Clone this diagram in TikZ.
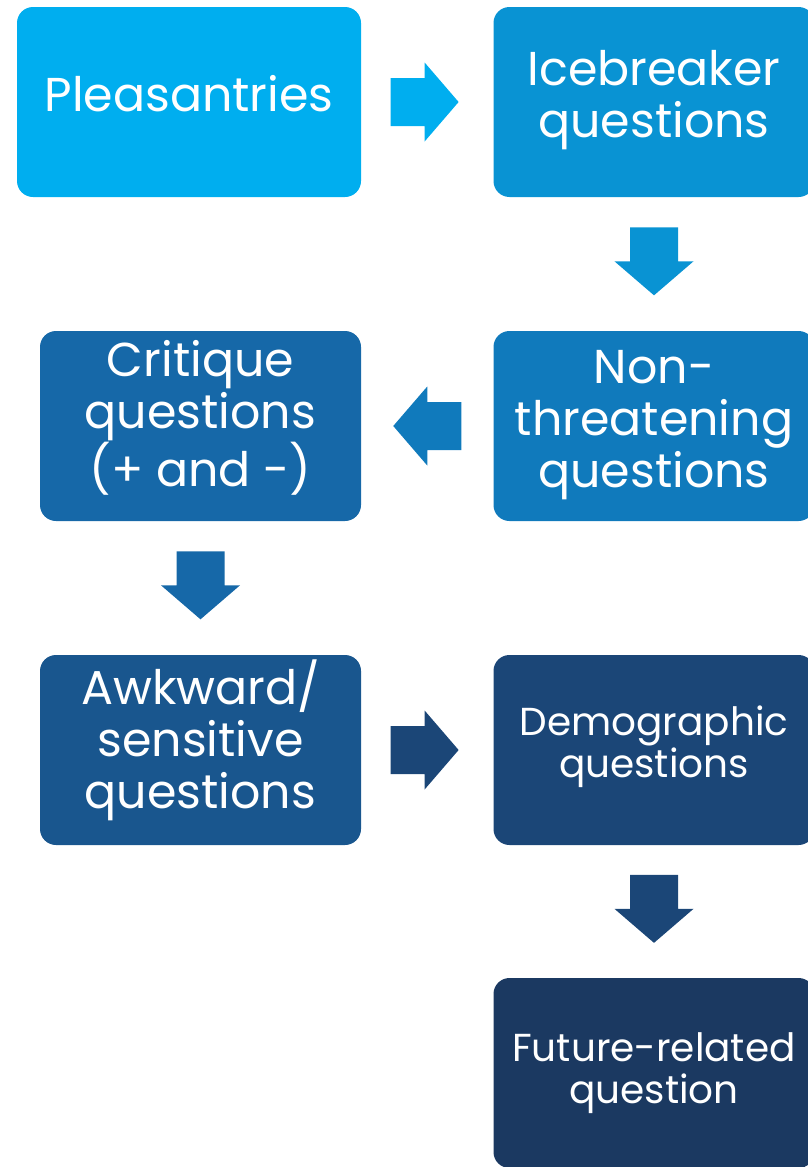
\documentclass[tikz,border=0pt]{standalone}
\usepackage{fontspec}
\setmainfont{Poppins}
\usetikzlibrary{calc}

% step colours, light to dark
\definecolor{s1}{HTML}{00AEEF}
\definecolor{s2}{HTML}{0993D3}
\definecolor{s3}{HTML}{107ABC}
\definecolor{s4}{HTML}{1668A8}
\definecolor{s5}{HTML}{19568E}
\definecolor{s6}{HTML}{1B4677}
\definecolor{s7}{HTML}{1B3961}

\tikzset{
  stagebox/.style={rounded corners=16pt, draw=none, inner sep=0pt,
    minimum height=190pt, minimum width=321pt},
  bigtext/.style={text=white, align=center, inner sep=0pt, anchor=base,
    font=\fontsize{47.5}{52}\selectfont},
  smalltext/.style={text=white, align=center, inner sep=0pt, anchor=base,
    font=\fontsize{39}{42}\selectfont},
  blockarrow/.pic={\fill (-34,-24) -- (0,-24) -- (0,-39.5) -- (34,0)
    -- (0,39.5) -- (0,24) -- (-34,24) -- cycle;}
}

\begin{document}
\begin{tikzpicture}[x=1pt,y=-1pt]
\useasboundingbox (0,0) rectangle (808,1167);
\clip (0,0) rectangle (808,1167);

% stages
\node[stagebox, fill=s1, minimum width=344pt] (p) at (189,102) {};
\node[stagebox, fill=s2] (i) at (654,102) {};
\node[stagebox, fill=s3] (n) at (654,426) {};
\node[stagebox, fill=s4] (c) at (200.5,426) {};
\node[stagebox, fill=s5] (a) at (200.5,750) {};
\node[stagebox, fill=s6] (d) at (654,750) {};
\node[stagebox, fill=s7] (f) at (654,1073) {};

% stage labels, placed by the baseline of their last line
\node[bigtext] (pt) at ($(p.center)+(0,9)$) {Pleasantries};
\node[bigtext] (it) at ($(i.center)+(0,35)$) {Icebreaker\\questions};
\node[bigtext] (nt) at ($(n.center)+(0,61)$) {Non-\\threatening\\questions};
\node[bigtext] (ct) at ($(c.center)+(0,60)$) {Critique\\questions\\(+ and -)};
\node[bigtext] (at) at ($(a.center)+(0,58)$) {Awkward/\\sensitive\\questions};
\node[smalltext] (dt) at ($(d.center)+(0,27)$) {Demographic\\questions};
\node[smalltext] (ft) at ($(f.center)+(0,30)$) {Future-related\\question};

% block arrows between consecutive stages
\coordinate (pi) at ($(p.east)!0.48!(i.west)$);
\coordinate (in) at ($(i.south)!0.48!(n.north)$);
\coordinate (nc) at ($(n.west)!0.5!(c.east)$);
\coordinate (ca) at ($(c.south)!0.48!(a.north)$);
\coordinate (ad) at ($(a.east)!0.48!(d.west)$);
\coordinate (df) at ($(d.south)!0.48!(f.north)$);

\path[fill=s1] (pi) pic {blockarrow};
\path[fill=s2] (in) pic[rotate=-90] {blockarrow};
\path[fill=s3] (nc) pic[rotate=180] {blockarrow};
\path[fill=s4] (ca) pic[rotate=-90] {blockarrow};
\path[fill=s6] (ad) pic {blockarrow};
\path[fill=s6] (df) pic[rotate=-90] {blockarrow};
\end{tikzpicture}
\end{document}
